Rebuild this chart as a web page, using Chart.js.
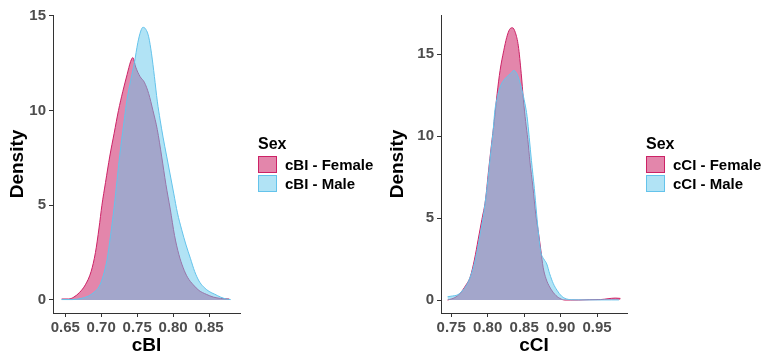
<!DOCTYPE html>
<html>
<head>
<meta charset="utf-8">
<script src="https://cdn.jsdelivr.net/npm/chart.js@4"></script>
<style>
  body { margin: 0; background: #fff; font-family: "Liberation Sans", Arial, sans-serif; }
  .panel { position: absolute; top: 0; height: 357px; }
  .legend { position: absolute; font-weight: bold; color: #000; }
  .legend .ttl { font-size: 16px; height: 22px; line-height: 22px; }
  .legend .row { height: 19px; display: flex; align-items: center; font-size: 15px; }
  .legend .box { width: 17px; height: 15px; margin-right: 8px; }
</style>
</head>
<body>
<div class="panel" style="left:0;width:380px"><canvas id="cbi" width="380" height="357"></canvas></div>
<div class="panel" style="left:380px;width:385px"><canvas id="cci" width="385" height="357"></canvas></div>
<div class="legend" id="legCbi" style="left:258px;top:133px"></div>
<div class="legend" id="legCci" style="left:646px;top:133px"></div>
<script>
// cBI densities
var cbiFemaleX = [0.645, 0.655, 0.662, 0.670, 0.678, 0.686, 0.692, 0.697, 0.701, 0.706, 0.712, 0.718, 0.724, 0.730, 0.736, 0.741, 0.744, 0.748, 0.754, 0.760, 0.766, 0.772, 0.778, 0.784, 0.790, 0.796, 0.802, 0.808, 0.814, 0.820, 0.828, 0.836, 0.846, 0.856, 0.866, 0.878];
var cbiFemaleY = [0.05, 0.05, 0.15, 0.4, 0.8, 1.5, 2.5, 3.8, 5.0, 6.2, 7.6, 8.8, 10.0, 11.0, 11.9, 12.6, 12.8, 12.3, 11.8, 11.5, 10.9, 10.0, 9.0, 7.6, 6.1, 4.8, 3.4, 2.4, 1.7, 1.2, 0.8, 0.5, 0.3, 0.15, 0.08, 0.05];
var cbiMaleX = [0.645, 0.660, 0.672, 0.682, 0.690, 0.697, 0.703, 0.708, 0.713, 0.718, 0.722, 0.726, 0.731, 0.736, 0.741, 0.746, 0.751, 0.755, 0.758, 0.762, 0.766, 0.770, 0.774, 0.778, 0.782, 0.786, 0.791, 0.796, 0.801, 0.806, 0.812, 0.818, 0.824, 0.830, 0.836, 0.842, 0.850, 0.858, 0.866, 0.874, 0.880];
var cbiMaleY = [0.02, 0.02, 0.08, 0.2, 0.4, 0.7, 1.3, 2.1, 3.4, 4.9, 6.3, 7.7, 9.2, 10.6, 11.6, 12.5, 13.6, 14.2, 14.4, 14.3, 13.9, 13.0, 11.8, 10.5, 9.5, 8.6, 7.6, 6.6, 5.6, 4.6, 3.7, 2.9, 2.2, 1.5, 1.0, 0.7, 0.45, 0.3, 0.15, 0.05, 0.02];

// cCI densities
var cciFemaleX = [0.745, 0.755, 0.762, 0.770, 0.776, 0.782, 0.787, 0.792, 0.797, 0.801, 0.805, 0.809, 0.813, 0.817, 0.822, 0.826, 0.830, 0.834, 0.838, 0.842, 0.846, 0.849, 0.852, 0.855, 0.858, 0.862, 0.866, 0.869, 0.873, 0.876, 0.880, 0.885, 0.892, 0.899, 0.906, 0.913, 0.925, 0.940, 0.955, 0.965, 0.975, 0.982];
var cciFemaleY = [0.0, 0.15, 0.4, 0.9, 1.4, 2.5, 3.7, 4.9, 6.1, 7.8, 9.4, 10.9, 12.6, 14.0, 15.2, 16.0, 16.5, 16.6, 16.3, 15.5, 13.8, 12.2, 10.9, 9.8, 8.4, 6.9, 5.2, 4.3, 3.0, 2.0, 1.3, 0.8, 0.35, 0.1, 0.0, 0.0, 0.0, 0.02, 0.03, 0.08, 0.12, 0.1];
var cciMaleX = [0.745, 0.752, 0.758, 0.765, 0.771, 0.776, 0.781, 0.786, 0.790, 0.794, 0.797, 0.800, 0.803, 0.807, 0.810, 0.814, 0.818, 0.822, 0.826, 0.831, 0.836, 0.840, 0.844, 0.847, 0.851, 0.854, 0.857, 0.860, 0.864, 0.867, 0.870, 0.873, 0.877, 0.881, 0.885, 0.890, 0.895, 0.901, 0.906, 0.915, 0.930, 0.950, 0.970, 0.980];
var cciMaleY = [0.2, 0.25, 0.3, 0.55, 0.9, 1.4, 2.1, 3.1, 4.1, 5.1, 6.1, 7.2, 8.5, 10.1, 11.6, 12.5, 13.1, 13.4, 13.6, 13.8, 14.0, 13.8, 13.3, 12.8, 12.0, 11.2, 9.9, 8.5, 6.8, 5.3, 3.9, 2.9, 2.5, 2.2, 1.6, 1.0, 0.6, 0.25, 0.1, 0.02, 0.01, 0.01, 0.01, 0.01];

var cbiTicksX = [0.65, 0.70, 0.75, 0.80, 0.85];
var cciTicksX = [0.75, 0.80, 0.85, 0.90, 0.95];
var densityTicks = [0, 5, 10, 15];

var femaleLine = 'rgb(204,34,102)';
var femaleFill = 'rgba(204,34,102,0.55)';
var maleLine = 'rgb(100,195,235)';
var maleFill = 'rgba(100,200,235,0.5)';

function pts(xs, ys) {
    return xs.map(function (x, i) { return { x: x, y: ys[i] }; });
}

function makeChart(id, name, fX, fY, mX, mY, xTicks, xRange, yRange, yWidth, legendId) {
    var ctx = document.getElementById(id).getContext('2d');
    var datasets = [
        { label: name + ' - Male', data: pts(mX, mY), borderColor: maleLine, backgroundColor: maleFill, order: 0 },
        { label: name + ' - Female', data: pts(fX, fY), borderColor: femaleLine, backgroundColor: femaleFill, order: 1 }
    ];
    datasets.forEach(function (d) {
        d.fill = 'origin';
        d.borderWidth = 1;
        d.pointRadius = 0;
        d.cubicInterpolationMode = 'monotone';
    });
    var tickFont = { family: 'Liberation Sans', size: 15, weight: 'bold' };
    var titleFont = { family: 'Liberation Sans', size: 19, weight: 'bold' };
    var chart = new Chart(ctx, {
        type: 'line',
        data: { datasets: datasets },
        options: {
            responsive: false,
            animation: false,
            layout: { padding: { top: 15, right: (id === 'cbi' ? 140 : 138), left: 0, bottom: 0 } },
            plugins: { legend: { display: false }, tooltip: { enabled: false } },
            scales: {
                x: {
                    type: 'linear',
                    min: xRange[0], max: xRange[1],
                    afterBuildTicks: function (s) { s.ticks = xTicks.map(function (v) { return { value: v }; }); },
                    afterFit: function (s) { s.height = 44; },
                    ticks: { color: '#4D4D4D', font: tickFont, padding: 2, maxRotation: 0,
                             callback: function (v) { return v.toFixed(2); } },
                    grid: { drawOnChartArea: false, tickLength: 4, color: '#333' },
                    border: { color: '#333', width: 1 },
                    title: { display: true, text: name, color: '#000', font: titleFont, padding: { top: 0, bottom: 0 } }
                },
                y: {
                    min: yRange[0], max: yRange[1],
                    afterBuildTicks: function (s) { s.ticks = densityTicks.map(function (v) { return { value: v }; }); },
                    afterFit: function (s) { s.width = yWidth; },
                    ticks: { color: '#4D4D4D', font: tickFont, padding: 3 },
                    grid: { drawOnChartArea: false, tickLength: 4, color: '#333' },
                    border: { color: '#333', width: 1 },
                    title: { display: true, text: 'Density', color: '#000', font: titleFont, padding: { top: 6, bottom: 0 } }
                }
            }
        }
    });

    // legend in ggplot order: Female first, then Male
    var leg = document.getElementById(legendId);
    var html = '<div class="ttl">Sex</div>';
    [datasets[1], datasets[0]].forEach(function (d) {
        html += '<div class="row"><div class="box" style="background:' + d.backgroundColor +
            ';border:1px solid ' + d.borderColor + '"></div>' + d.label + '</div>';
    });
    leg.innerHTML = html;
    return chart;
}

makeChart('cbi', 'cBI', cbiFemaleX, cbiFemaleY, cbiMaleX, cbiMaleY, cbiTicksX, [0.633, 0.893], [-0.69, 15.05], 53, 'legCbi');
makeChart('cci', 'cCI', cciFemaleX, cciFemaleY, cciMaleX, cciMaleY, cciTicksX, [0.736, 0.991], [-0.79, 17.38], 61, 'legCci');
</script>
</body>
</html>
